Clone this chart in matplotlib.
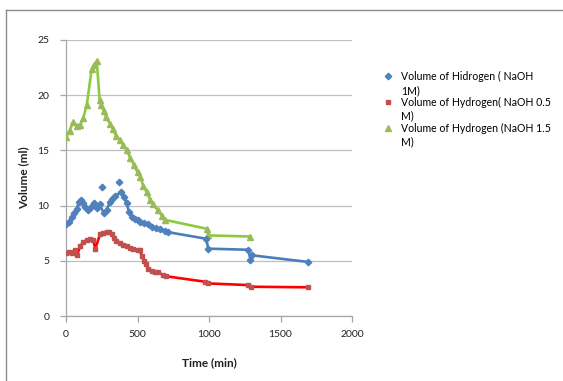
import matplotlib
matplotlib.use("Agg")
import numpy as np
import matplotlib.pyplot as plt
from matplotlib.lines import Line2D
from matplotlib.legend_handler import HandlerLine2D

# hydrogen volume vs time for three NaOH concentrations
t_1m = [0, 20, 40, 55, 75, 90, 105, 120, 135, 155, 175, 195, 215, 235, 265, 285, 305, 325, 345,
        385, 405, 425, 440, 460, 480, 500, 520, 545, 570, 600, 630, 660, 690, 710, 980, 995,
        1275, 1290, 1300, 1690]
v_1m = [8.3, 8.5, 9.0, 9.3, 9.7, 10.3, 10.5, 10.2, 9.9, 9.6, 9.9, 10.2, 9.8, 10.1, 9.3, 9.6, 10.3,
        10.6, 10.9, 11.2, 10.8, 10.2, 9.4, 9.0, 8.8, 8.7, 8.5, 8.4, 8.3, 8.1, 8.0, 7.9, 7.7, 7.6,
        7.0, 6.1, 6.0, 5.1, 5.5, 4.9]
# stray readings (no line through them)
t_1m_extra = [250, 370]
v_1m_extra = [11.7, 12.1]

t_05m = [0, 20, 40, 60, 75, 100, 121, 150, 170, 190, 205, 238, 260, 285, 300, 320, 335, 350, 380,
         400, 425, 450, 470, 500, 517, 530, 545, 560, 576, 600, 620, 640, 680, 700, 975, 995,
         1275, 1295, 1690]
v_05m = [5.7, 5.8, 5.7, 6.0, 5.5, 6.3, 6.7, 6.9, 7.0, 6.9, 6.1, 7.4, 7.5, 7.6, 7.65, 7.4, 7.1, 6.8,
         6.6, 6.4, 6.3, 6.2, 6.1, 6.0, 6.0, 5.4, 5.0, 4.7, 4.3, 4.1, 4.0, 4.0, 3.7, 3.6, 3.1, 2.95,
         2.8, 2.65, 2.6]

t_15m = [0, 25, 50, 75, 100, 120, 145, 180, 195, 215, 235, 245, 265, 280, 310, 330, 350, 380, 400,
         425, 450, 475, 500, 520, 540, 565, 590, 610, 640, 670, 695, 985, 995, 1285]
v_15m = [16.2, 16.8, 17.6, 17.2, 17.3, 17.9, 19.1, 22.4, 22.7, 23.1, 19.6, 19.1, 18.6, 18.0, 17.4,
         16.9, 16.3, 15.9, 15.5, 15.0, 14.3, 13.7, 13.0, 12.6, 11.8, 11.2, 10.5, 10.1, 9.6, 9.1,
         8.7, 7.9, 7.3, 7.2]

labels = ["Volume of Hidrogen ( NaOH\n1M)",
          "Volume of Hydrogen( NaOH 0.5\nM)",
          "Volume of Hydrogen (NaOH 1.5\nM)"]
xticks = [0, 500, 1000, 1500, 2000]
yticks = [0, 5, 10, 15, 20, 25]


class FirstLineHandler(HandlerLine2D):
    # put the legend marker beside the first line of a wrapped label
    def create_artists(self, legend, orig_handle, xdescent, ydescent, width, height, fontsize, trans):
        artists = super().create_artists(legend, orig_handle, xdescent, ydescent,
                                         width, height, fontsize, trans)
        for a in artists:
            a.set_ydata(np.asarray(a.get_ydata()) + 0.75 * fontsize)
        return artists


plt.rcParams['font.family'] = ['Lato', 'DejaVu Sans']
plt.rcParams['font.size'] = 7.5

fig = plt.figure(figsize=(5.63, 3.81), dpi=100)
ax = fig.add_axes([66/563, 65/381, 286/563, 276/381])

c_blue, c_blue_m = "#4A7EBB", "#4F81BD"
c_red, c_red_m = "#FF0000", "#C0504D"
c_green, c_green_m = "#8CCB3E", "#9BBB59"

ax.plot(t_15m, v_15m, color=c_green, lw=1.9, marker="^", ms=4.5, mfc=c_green_m, mec=c_green_m, zorder=3)
ax.plot(t_1m, v_1m, color=c_blue, lw=1.9, marker="D", ms=3.3, mfc=c_blue_m, mec=c_blue_m, zorder=3)
ax.plot(t_1m_extra, v_1m_extra, ls="none", marker="D", ms=3.3, mfc=c_blue_m, mec=c_blue_m, zorder=3)
ax.plot(t_05m, v_05m, color=c_red, lw=1.9, marker="s", ms=3.3, mfc=c_red_m, mec=c_red_m, zorder=3)

ax.set_xlim(0, 2000)
ax.set_ylim(0, 25)
ax.set_xticks(xticks)
ax.set_yticks(yticks)
ax.yaxis.grid(True, color="#BFBFBF", lw=0.9)
ax.set_axisbelow(True)
for s in ["top", "right"]:
    ax.spines[s].set_visible(False)
for s in ["left", "bottom"]:
    ax.spines[s].set_color("#A6A6A6")
    ax.spines[s].set_linewidth(0.9)
ax.tick_params(axis="both", colors="#A6A6A6", length=4, width=0.9, labelcolor="#222222")
ax.tick_params(axis="y", pad=8)
ax.tick_params(axis="x", pad=6)

ax.set_xlabel("Time (min)", fontsize=8.5, fontweight="bold", labelpad=13, color="#222222")
ax.set_ylabel("Volume (ml)", fontsize=8.5, fontweight="bold", labelpad=6, color="#222222")

handles = [Line2D([], [], ls="none", marker="D", ms=3.3, mfc=c_blue_m, mec=c_blue_m),
           Line2D([], [], ls="none", marker="s", ms=3.3, mfc=c_red_m, mec=c_red_m),
           Line2D([], [], ls="none", marker="^", ms=4.5, mfc=c_green_m, mec=c_green_m)]
leg = fig.legend(handles, labels, loc="upper left", bbox_to_anchor=(378/563, 1 - 67/381),
                 frameon=False, handlelength=1.0, handletextpad=0.8, labelspacing=0.1,
                 fontsize=7.6, borderaxespad=0,
                 handler_map={Line2D: FirstLineHandler()})
for txt in leg.get_texts():
    txt.set_linespacing(1.3)

# chart frame
fig.add_artist(Line2D([6/563, 1.0], [1 - 10/381] * 2, color="#8C8C8C", lw=1))
fig.add_artist(Line2D([6/563] * 2, [0, 1 - 10/381], color="#8C8C8C", lw=1))

fig.savefig("out.png", dpi=100)
